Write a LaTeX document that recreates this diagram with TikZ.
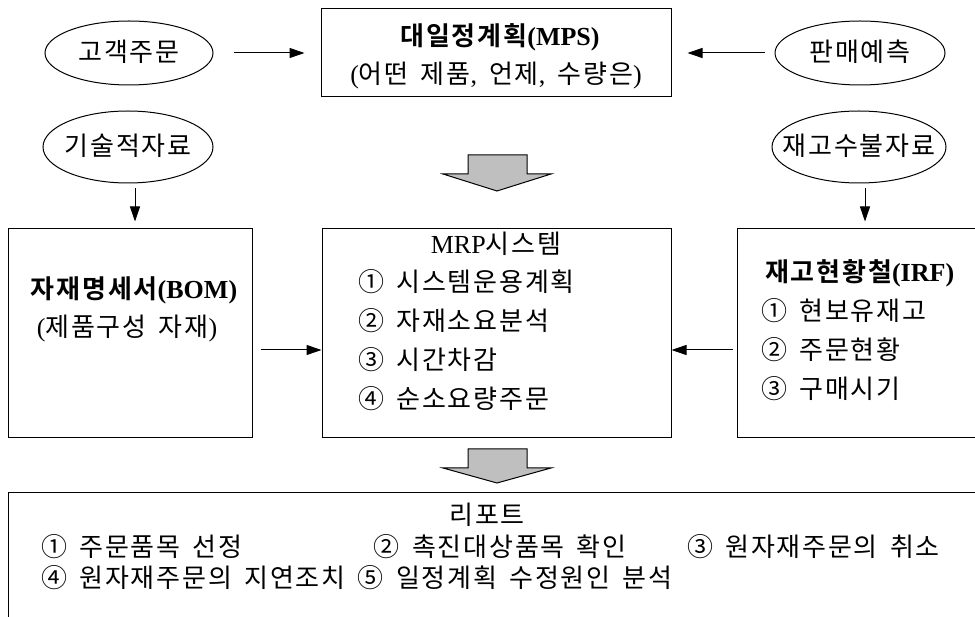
\documentclass[tikz,border=0pt]{standalone}
\usepackage{fontspec}
\setmainfont{Noto Sans CJK KR}[BoldFont={Noto Sans CJK KR Bold},WordSpace=1.6,LetterSpace=7]
\newfontfamily\lat{Liberation Serif}
\usetikzlibrary{shapes.geometric,arrows.meta}

\tikzset{
  box/.style={draw, line width=1pt, inner sep=0pt},
  oval/.style={draw, ellipse, line width=1pt, inner sep=0pt},
  txt/.style={inner sep=0pt, text height=20pt, text depth=2.5pt,
              font=\fontsize{26}{31}\selectfont},
  ttl/.style={txt, font=\fontsize{26}{31}\selectfont\bfseries},
  arr/.style={line width=1pt, -{Triangle[length=15pt,width=10pt]}},
  flow/.style={draw, line width=1pt, fill=black!25, line join=miter}
}

\begin{document}
\begin{tikzpicture}[x=1pt,y=-1pt]
\useasboundingbox (0,0) rectangle (975,617);
\clip (0,0) rectangle (975,617);

% data sources
\node[oval, minimum width=168, minimum height=64] (ord) at (129,53) {};
\node[txt] (ordT) at (ord) {고객주문};
\node[oval, minimum width=170, minimum height=64] (fc) at (860,53) {};
\node[txt] (fcT) at (fc) {판매예측};
\node[oval, minimum width=170, minimum height=72] (tech) at (128,147) {};
\node[txt] (techT) at (tech) {기술적자료};
\node[oval, minimum width=174, minimum height=72] (inv) at (859,147) {};
\node[txt] (invT) at (inv) {재고수불자료};

% master production schedule
\node[box, minimum width=350, minimum height=88] (mps) at (496,53) {};
\node[ttl] (mpsT) at (500,37) {대일정계획{\lat (MPS)}};
\node[txt] (mpsS) at (496,75) {{\lat (}어떤 제품{\lat ,} 언제{\lat ,} 수량은{\lat )}};

% bill of materials
\node[box, minimum width=244, minimum height=209] (bom) at (130,333.5) {};
\node[ttl] (bomT) at (134,290) {자재명세서{\lat (BOM)}};
\node[txt] (bomS) at (127,328) {{\lat (}제품구성 자재{\lat )}};

% MRP system
\node[box, minimum width=349, minimum height=209] (mrp) at (496.5,333.5) {};
\node[txt] (mrpT) at (496,245) {{\lat MRP}시스템};
\node[txt, anchor=west] (mrp1) at (358,283) {① 시스템운용계획};
\node[txt, anchor=west] (mrp2) at (358,322) {② 자재소요분석};
\node[txt, anchor=west] (mrp3) at (358,361) {③ 시간차감};
\node[txt, anchor=west] (mrp4) at (358,400) {④ 순소요량주문};

% inventory record file
\node[box, minimum width=263, minimum height=209] (irf) at (868.5,333.5) {};
\node[ttl, anchor=west] (irfT) at (765,273) {재고현황철{\lat (IRF)}};
\node[txt, anchor=west] (irf1) at (761,312) {① 현보유재고};
\node[txt, anchor=west] (irf2) at (761,351) {② 주문현황};
\node[txt, anchor=west] (irf3) at (761,390) {③ 구매시기};

% reports
\node[box, minimum width=1000, minimum height=160, anchor=north west] (rep) at (8,492) {};
\node[txt] (repT) at (487,516) {리포트};
\node[txt, anchor=west] (rep1) at (41,548) {① 주문품목 선정};
\node[txt, anchor=west] (rep4) at (41,579) {④ 원자재주문의 지연조치};
\node[txt, anchor=west] (rep5) at ([xshift=12pt]rep4.east) {⑤ 일정계획 수정원인 분석};
\node[txt, anchor=west] (rep2) at ([xshift=16pt]rep5.west |- rep1) {② 촉진대상품목 확인};
\node[txt, anchor=east] (rep3) at (940,548) {③ 원자재주문의 취소};

% connectors
\coordinate (midrow) at (0,350);
\draw[arr, shorten <=20pt, shorten >=16pt] (ord.east) -- (ord.east -| mps.west);
\draw[arr, shorten <=10pt, shorten >=16pt] (fc.west) -- (fc.west -| mps.east);
\draw[arr, shorten <=5pt, shorten >=7pt] ([xshift=7pt]tech.south) -- ([xshift=7pt]tech.south |- bom.north);
\draw[arr, shorten <=5pt, shorten >=7pt] ([xshift=6pt]inv.south) -- ([xshift=6pt]inv.south |- irf.north);
\draw[arr, shorten <=8pt] (bom.east |- midrow) -- (mrp.west |- midrow);
\draw[arr, shorten <=4pt] (irf.west |- midrow) -- (mrp.east |- midrow);

% block arrows between stages
\coordinate (flowA) at (497,155);
\coordinate (flowB) at (497,449);
\path[flow] (flowA) ++(-29,0) -- ++(59,0) -- ++(0,19) -- ++(24,0) -- ++(-54,17)
  -- ++(-54,-17) -- ++(25,0) -- cycle;
\path[flow] (flowB) ++(-29,0) -- ++(59,0) -- ++(0,19) -- ++(24,0) -- ++(-54,15)
  -- ++(-54,-15) -- ++(25,0) -- cycle;
\end{tikzpicture}
\end{document}
